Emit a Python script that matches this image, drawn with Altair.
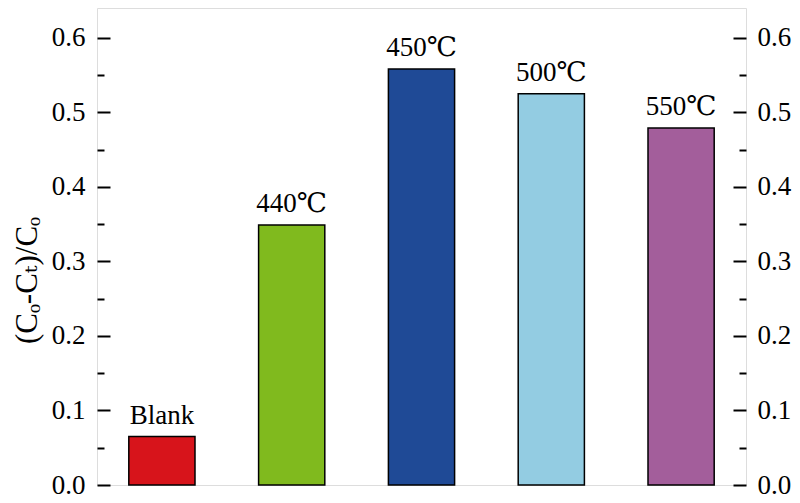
import altair as alt
import pandas as pd

categories = ["Blank", "440℃", "450℃", "500℃", "550℃"]
values = [0.065, 0.349, 0.558, 0.525, 0.479]
colors = ["#D7141B", "#80BA1E", "#1F4A96", "#93CCE2", "#A35E9B"]
major_ticks = [0.0, 0.1, 0.2, 0.3, 0.4, 0.5, 0.6]
minor_ticks = [0.05, 0.15, 0.25, 0.35, 0.45, 0.55]

df = pd.DataFrame({"cat": categories, "val": values, "color": colors})

FONT = "'Liberation Serif', 'Times New Roman', 'DejaVu Serif', serif"
FS = 27

yscale = alt.Scale(domain=[0, 0.64], nice=False, zero=True)
xenc = alt.X("cat:N", sort=categories,
             scale=alt.Scale(paddingInner=0.49, paddingOuter=0.245),
             axis=alt.Axis(title=None, labels=False, ticks=False, domain=True,
                           domainColor="black", domainWidth=2))

base = alt.Chart(df)

bars = base.mark_bar(stroke="black", strokeWidth=1.5).encode(
    x=xenc,
    y=alt.Y("val:Q", scale=yscale,
            axis=alt.Axis(orient="left", values=major_ticks, format=".1f",
                          offset=-13, tickSize=13, tickWidth=2, tickColor="black",
                          domain=False, grid=False, labelPadding=12,
                          labelFont=FONT, labelFontSize=FS, labelColor="black",
                          title="(Cₒ-Cₜ)/Cₒ", titleFont=FONT, titleFontSize=31,
                          titleFontWeight="normal", titleColor="black",
                          titleAngle=270, titleAlign="center", titleBaseline="middle",
                          titleX=-83, titleY=272)),
    color=alt.Color("color:N", scale=None),
)

left_minor = base.mark_bar(opacity=0).encode(
    x=xenc,
    y=alt.Y("val:Q", scale=yscale,
            axis=alt.Axis(orient="left", values=minor_ticks, offset=-7, tickSize=7,
                          tickWidth=2, tickColor="black", labels=False, domain=False,
                          grid=False, title=None)),
)

right_major = base.mark_bar(opacity=0).encode(
    x=xenc,
    y=alt.Y("val:Q", scale=yscale,
            axis=alt.Axis(orient="right", values=major_ticks, format=".1f",
                          offset=-13, tickSize=13, tickWidth=2, tickColor="black",
                          domain=False, grid=False, labelPadding=11,
                          labelFont=FONT, labelFontSize=FS, labelColor="black",
                          title=None)),
)

right_minor = base.mark_bar(opacity=0).encode(
    x=xenc,
    y=alt.Y("val:Q", scale=yscale,
            axis=alt.Axis(orient="right", values=minor_ticks, offset=-7, tickSize=7,
                          tickWidth=2, tickColor="black", labels=False, domain=False,
                          grid=False, title=None)),
)

labels = base.mark_text(font=FONT, fontSize=FS, baseline="alphabetic",
                        align="center", dy=-13, color="black").encode(
    x=alt.X("cat:N", sort=categories, axis=None),
    y=alt.Y("val:Q", scale=yscale, axis=None),
    text="cat:N",
)

chart = alt.layer(bars, left_minor, right_major, right_minor, labels).resolve_scale(
    y="shared"
).resolve_axis(y="independent").properties(
    width=649, height=477,
    autosize=alt.AutoSizeParams(type="none"),
    padding={"left": 89, "top": 0, "right": 46, "bottom": 18},
).configure_view(stroke="black", strokeWidth=2).configure(background="white")

chart.save("out.html", embed_options={"renderer": "svg", "actions": False})
